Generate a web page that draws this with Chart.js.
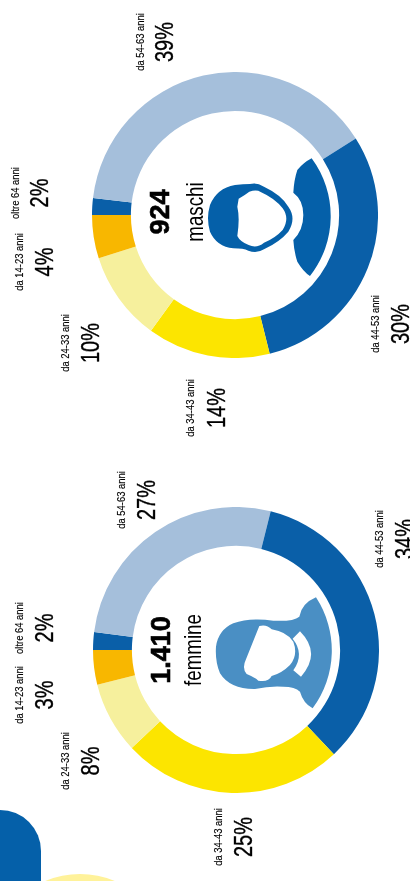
<!DOCTYPE html>
<html>
<head>
<meta charset="utf-8">
<title>Età maschi e femmine</title>
<script src="https://cdn.jsdelivr.net/npm/chart.js@4"></script>
<style>
    html, body { margin: 0; padding: 0; background: #fff; }
    #page { position: relative; width: 410px; height: 881px; overflow: hidden; background: #fff; }
    canvas { position: absolute; }
    svg { position: absolute; left: 0; top: 0; }
    .txt {
        position: absolute; white-space: nowrap; color: #000; line-height: 1;
        font-family: "Liberation Sans", sans-serif;
    }
    .age { font-size: 11.5px; -webkit-text-stroke: .15px #000; transform: translate(-50%, -50%) rotate(-90deg) scaleX(.82); }
    .pct { font-size: 25px; -webkit-text-stroke: .35px #000; transform: translate(-50%, -50%) rotate(-90deg) scaleX(.8); }
    .num { font-size: 27px; font-weight: bold; -webkit-text-stroke: .6px #000; transform: translate(-50%, -50%) rotate(-90deg); }
    .who { font-size: 24px; transform: translate(-50%, -50%) rotate(-90deg) scaleX(.78); }
</style>
</head>
<body>
<div id="page">
    <canvas id="femmineChart" width="286" height="286" style="left:93px;top:507px"></canvas>
    <canvas id="maschiChart" width="286" height="286" style="left:92px;top:72px"></canvas>

    <svg width="410" height="881">
        <!-- maschi -->
        <g transform="translate(140,150) scale(0.3333)" fill="#0560a9">
            <path d="M515 25 A291 291 0 0 1 510 378 Q490 365 472 335 Q462 305 460 270 Q490 240 490 195 Q490 150 460 128 Q462 90 472 60 Q490 38 515 25Z"/>
            <path d="M330 102 Q350 96 372 110 Q425 135 445 170 Q470 205 445 245 Q420 275 372 298 Q350 312 325 302 Q310 295 280 295 Q230 290 210 245 Q198 205 210 165 Q230 115 285 105 Q310 102 330 102Z"/>
            <path fill="#fff" d="M296 146 Q315 135 328 125 Q350 118 362 126 Q405 145 428 175 Q450 205 428 240 Q405 265 372 278 Q350 296 326 285 Q300 275 292 258 Q300 205 292 170Z"/>
        </g>
        <!-- femmine -->
        <g transform="translate(140,590) scale(0.3333)" fill="#4a8fc4">
            <path d="M528 22 A291 291 0 0 1 518 355 Q490 340 480 305 Q465 290 430 290 Q390 287 345 297 Q270 298 240 250 Q225 215 228 170 Q235 120 280 100 Q330 82 400 92 Q460 95 478 80 Q485 40 528 22Z"/>
            <path fill="#fff" d="M358 108 Q380 102 395 118 Q440 125 460 155 Q475 195 450 225 Q425 250 395 258 Q385 278 355 272 Q345 262 320 252 Q305 235 318 208Z"/>
            <path fill="#fff" d="M480 124 Q545 190 483 260 L460 241 Q495 192 458 146Z"/>
        </g>
        <!-- angolo in basso -->
        <path fill="#0560a9" d="M0 810 A41 41 0 0 1 41 851 V881 H0Z"/>
        <circle cx="80" cy="965" r="91" fill="#fff29a"/>
    </svg>
</div>

<script>
// eta', in senso orario a partire da sinistra
const fasce = ['oltre 64 anni', 'da 54-63 anni', 'da 44-53 anni', 'da 34-43 anni', 'da 24-33 anni', 'da 14-23 anni'];
const colori = ['#0a5fa8', '#a5bfdb', '#0a5fa8', '#fce500', '#f6f09d', '#f8b700'];

// ampiezza degli archi
const archiFemmine = [2.0, 26.9, 34.1, 25.0, 8.1, 3.9];
const archiMaschi = [1.9, 39.1, 30.1, 13.9, 10.1, 4.9];

// percentuali stampate
const etichetteFemmine = ['2%', '27%', '34%', '25%', '8%', '3%'];
const etichetteMaschi = ['2%', '39%', '30%', '14%', '10%', '4%'];

// posizione delle etichette sulla pagina [x fascia, x percentuale, y]
const posFemmine = [[20, 44, 628], [122, 146, 500], [380, 404, 539], [219, 243, 837], [66, 90, 761], [20, 44, 695]];
const posMaschi = [[16, 39, 193], [141, 164, 42], [376, 400, 324], [191, 216, 408], [66, 90, 343], [20, 44, 262]];

function testo(str, cls, x, y) {
    const el = document.createElement('div');
    el.className = 'txt ' + cls;
    el.textContent = str;
    el.style.left = x + 'px';
    el.style.top = y + 'px';
    document.getElementById('page').appendChild(el);
}

function ciambella(id, archi, etichette, pos) {
    new Chart(document.getElementById(id), {
        type: 'doughnut',
        data: {
            labels: fasce,
            datasets: [{ data: archi, backgroundColor: colori, borderWidth: 0 }]
        },
        options: {
            responsive: false,
            animation: false,
            rotation: -90,
            cutout: '72.8%',
            plugins: { legend: { display: false }, tooltip: { enabled: false } }
        }
    });
    fasce.forEach((f, i) => {
        testo(f, 'age', pos[i][0], pos[i][2]);
        testo(etichette[i], 'pct', pos[i][1], pos[i][2]);
    });
}

ciambella('femmineChart', archiFemmine, etichetteFemmine, posFemmine);
ciambella('maschiChart', archiMaschi, etichetteMaschi, posMaschi);

testo('1.410', 'num', 161, 650);
testo('femmine', 'who', 193, 650);
testo('924', 'num', 160, 212);
testo('maschi', 'who', 195, 212);
</script>
</body>
</html>
